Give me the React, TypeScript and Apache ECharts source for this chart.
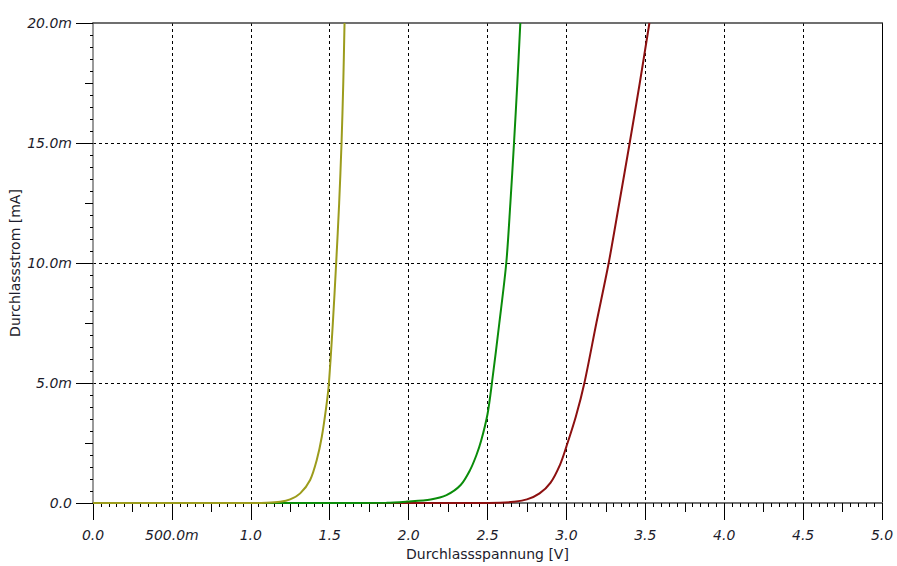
import React, { useEffect, useRef } from "react";
import * as echarts from "echarts";

// Tick labels
const xTickValues = [0, 0.5, 1, 1.5, 2, 2.5, 3, 3.5, 4, 4.5, 5];
const xTickLabels = ["0.0", "500.0m", "1.0", "1.5", "2.0", "2.5", "3.0", "3.5", "4.0", "4.5", "5.0"];
const yTickValues = [0, 5, 10, 15, 20];
const yTickLabels = ["0.0", "5.0m", "10.0m", "15.0m", "20.0m"];

// Series: [voltage V, current mA]
const yellowCurve: [number, number][] = [
  [0, 0], [1.0, 0], [1.1, 0.01], [1.186, 0.05], [1.249, 0.15], [1.313, 0.4], [1.376, 0.96],
  [1.418, 1.79], [1.45, 2.76], [1.48, 4.1], [1.495, 5.0], [1.52, 7.5], [1.541, 10.0],
  [1.56, 12.5], [1.575, 15.0], [1.586, 17.5], [1.594, 20],
];
const greenCurve: [number, number][] = [
  [0, 0], [1.5, 0], [1.86, 0.01], [1.99, 0.06], [2.14, 0.15], [2.24, 0.33], [2.33, 0.75],
  [2.39, 1.38], [2.43, 2.0], [2.46, 2.6], [2.5, 3.7], [2.528, 5.0], [2.575, 7.5],
  [2.619, 10.0], [2.645, 12.5], [2.668, 15.0], [2.689, 17.5], [2.708, 20],
];
const redCurve: [number, number][] = [
  [0, 0], [2.4, 0], [2.58, 0.01], [2.665, 0.05], [2.75, 0.15], [2.83, 0.4], [2.9, 0.85],
  [2.96, 1.6], [3.0, 2.35], [3.06, 3.6], [3.114, 5.0], [3.19, 7.5], [3.268, 10.0],
  [3.335, 12.5], [3.401, 15.0], [3.465, 17.5], [3.526, 20],
];

const FONT = "DejaVu Sans";
const TEXT = "#1c1c2c";

export default function App() {
  const ref = useRef<HTMLDivElement>(null);
  useEffect(() => {
    if (!ref.current) return;
    const chart = echarts.init(ref.current, undefined, { renderer: "svg" });
    const hidden = { show: false };
    const labelStyle = { fontFamily: FONT, fontSize: 14, fontStyle: "italic" as const, color: TEXT };
    chart.setOption({
      animation: false,
      backgroundColor: "#ffffff",
      grid: { left: 93, top: 23, right: 15, bottom: 63, containLabel: false, outerBoundsMode: "none" },
      xAxis: [
        {
          type: "value", min: 0, max: 5, interval: 0.5, position: "bottom",
          axisLine: { show: true, onZero: false, lineStyle: { color: "#707070", width: 2 } },
          axisTick: { show: true, length: 17, lineStyle: { color: "#000", width: 1 } },
          minorTick: { show: true, splitNumber: 10, length: 4, lineStyle: { color: "#000", width: 1 } },
          axisLabel: {
            ...labelStyle, margin: 25,
            formatter: (v: number) => {
              const i = xTickValues.findIndex((t) => Math.abs(t - v) < 1e-6);
              return i >= 0 ? xTickLabels[i] : "";
            },
          },
          splitLine: { show: true, showMinLine: false, showMaxLine: false, lineStyle: { color: "#000", width: 1, type: [3, 3] } },
          name: "Durchlassspannung [V]", nameLocation: "middle", nameGap: 44, nameMoveOverlap: false,
          nameTextStyle: { fontFamily: FONT, fontSize: 14, color: TEXT },
        },
        {
          type: "value", min: 0, max: 5, interval: 0.25, position: "bottom",
          axisLine: { show: false, onZero: false },
          axisTick: { show: true, length: 9, lineStyle: { color: "#000", width: 1 } },
          axisLabel: hidden, splitLine: hidden,
        },
        {
          type: "value", min: 0, max: 5, position: "top",
          axisLine: { show: true, onZero: false, lineStyle: { color: "#404040", width: 1.5 } },
          axisTick: hidden, axisLabel: hidden, splitLine: hidden,
        },
      ],
      yAxis: [
        {
          type: "value", min: 0, max: 20, interval: 5, position: "left",
          axisLine: { show: true, onZero: false, lineStyle: { color: "#777777", width: 1.5 } },
          axisTick: { show: true, length: 17, lineStyle: { color: "#000", width: 1 } },
          minorTick: { show: true, splitNumber: 10, length: 3, lineStyle: { color: "#000", width: 1 } },
          axisLabel: {
            ...labelStyle, margin: 21,
            formatter: (v: number) => {
              const i = yTickValues.findIndex((t) => Math.abs(t - v) < 1e-6);
              return i >= 0 ? yTickLabels[i] : "";
            },
          },
          splitLine: { show: true, showMinLine: false, showMaxLine: false, lineStyle: { color: "#000", width: 1, type: [3, 3] } },
          name: "Durchlassstrom [mA]", nameLocation: "middle", nameGap: 71, nameMoveOverlap: false,
          nameTextStyle: { fontFamily: FONT, fontSize: 14, color: TEXT },
        },
        {
          type: "value", min: 0, max: 20, interval: 2.5, position: "left",
          axisLine: { show: false, onZero: false },
          axisTick: { show: true, length: 8, lineStyle: { color: "#000", width: 1 } },
          axisLabel: hidden, splitLine: hidden,
        },
        {
          type: "value", min: 0, max: 20, position: "right",
          axisLine: { show: true, onZero: false, lineStyle: { color: "#000", width: 1 } },
          axisTick: hidden, axisLabel: hidden, splitLine: hidden,
        },
      ],
      series: [
        { name: "red", data: redCurve, color: "#8c1010" },
        { name: "green", data: greenCurve, color: "#0a8c0a" },
        { name: "yellow", data: yellowCurve, color: "#9c9c1c" },
      ].map((s) => ({
        type: "line",
        name: s.name,
        data: s.data,
        xAxisIndex: 0,
        yAxisIndex: 0,
        showSymbol: false,
        smooth: 0.3,
        clip: true,
        lineStyle: { color: s.color, width: 2 },
        itemStyle: { color: s.color },
        z: 3,
      })),
    });
    return () => chart.dispose();
  }, []);
  return <div ref={ref} style={{ position: "fixed", left: 0, top: 0, width: 897, height: 566 }} />;
}
